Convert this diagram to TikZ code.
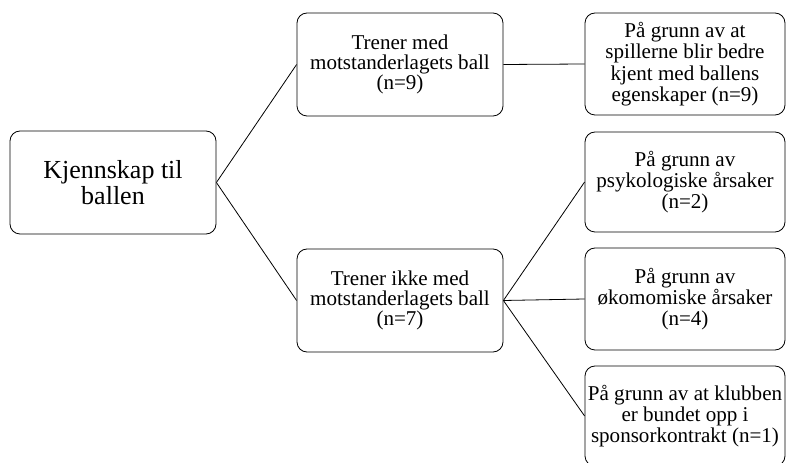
\documentclass[tikz,border=0pt]{standalone}
\usepackage{fontspec}
\setmainfont{Liberation Serif}
\begin{document}
\begin{tikzpicture}[x=0.75pt,y=-0.75pt,
  box/.style={draw, rounded corners=7.5pt, line width=0.6pt, align=center, inner sep=0pt},
  big/.style={font=\fontsize{19.5}{19}\selectfont},
  mid/.style={font=\fontsize{15.8}{14.8}\selectfont},
  small/.style={font=\fontsize{15.8}{16}\selectfont},
  conn/.style={line width=0.6pt}]
\useasboundingbox (0,0) rectangle (786,463);
\node[box,big,minimum width=206*0.75pt,minimum height=103*0.75pt] (root) at (113,182.5) {Kjennskap til\\ballen};
\node[box,mid,minimum width=206*0.75pt,minimum height=103*0.75pt] (b1) at (400,64.5) {Trener med\\motstanderlagets ball\\(n=9)};
\node[box,mid,minimum width=206*0.75pt,minimum height=103*0.75pt] (b2) at (400,300.5) {Trener ikke med\\motstanderlagets ball\\(n=7)};
\node[box,small,minimum width=200*0.75pt,minimum height=102*0.75pt] (l1) at (685,64) {På grunn av at\\spillerne blir bedre\\kjent med ballens\\egenskaper (n=9)};
\node[box,small,minimum width=200*0.75pt,minimum height=100*0.75pt] (l2) at (685,182) {På grunn av\\psykologiske årsaker\\(n=2)};
\node[box,small,minimum width=200*0.75pt,minimum height=102*0.75pt] (l3) at (685,299) {På grunn av\\økomomiske årsaker\\(n=4)};
\node[box,small,minimum width=200*0.75pt,minimum height=100*0.75pt] (l4) at (685,416) {På grunn av at klubben\\er bundet opp i\\sponsorkontrakt (n=1)};
\draw[conn] (root.east) -- (b1.west);
\draw[conn] (root.east) -- (b2.west);
\draw[conn] (b1.east) -- (l1.west);
\draw[conn] (b2.east) -- (l2.west);
\draw[conn] (b2.east) -- (l3.west);
\draw[conn] (b2.east) -- (l4.west);
\end{tikzpicture}
\end{document}
